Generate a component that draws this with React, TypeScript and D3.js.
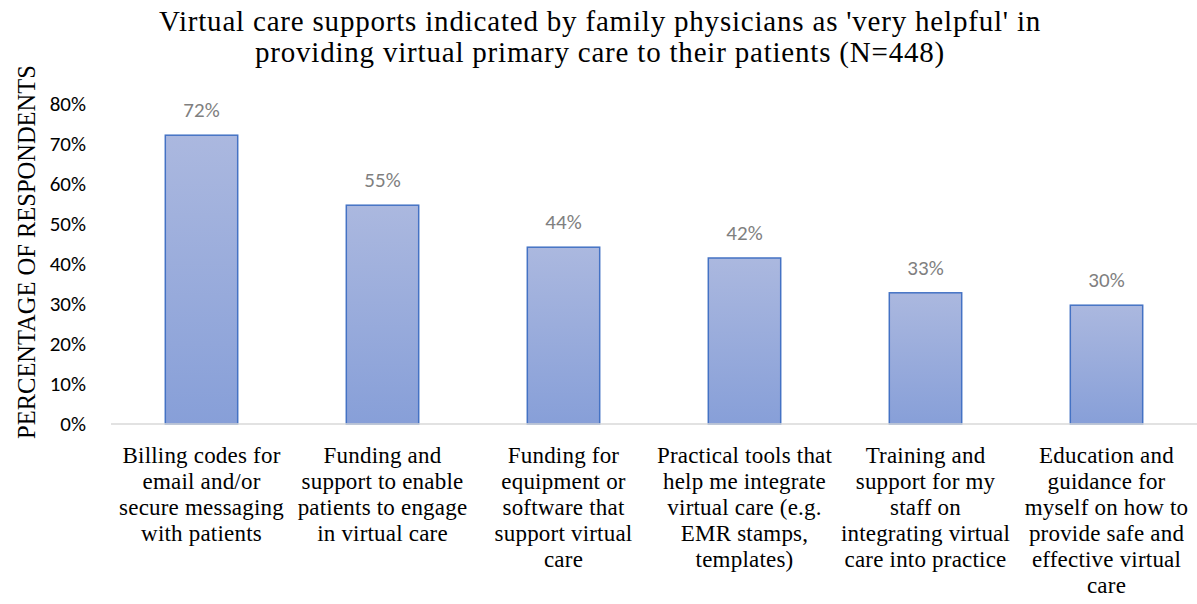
import React, { useEffect, useRef } from 'react';
import * as d3 from 'd3';

const categories = [
  ['Billing codes for', 'email and/or', 'secure messaging', 'with patients'],
  ['Funding and', 'support to enable', 'patients to engage', 'in virtual care'],
  ['Funding for', 'equipment or', 'software that', 'support virtual', 'care'],
  ['Practical tools that', 'help me integrate', 'virtual care (e.g.', 'EMR stamps,', 'templates)'],
  ['Training and', 'support for my', 'staff on', 'integrating virtual', 'care into practice'],
  ['Education and', 'guidance for', 'myself on how to', 'provide safe and', 'effective virtual', 'care'],
];
const values = [72.2, 54.7, 44.2, 41.5, 32.8, 29.7];
const yTicks = [0, 10, 20, 30, 40, 50, 60, 70, 80];
const titleLines = [
  "Virtual care supports indicated by family physicians as 'very helpful' in",
  'providing virtual primary care to their patients (N=448)',
];

const App = () => {
  const svgRef = useRef<SVGSVGElement>(null);

  useEffect(() => {
    const svg = d3.select(svgRef.current);
    svg.selectAll('*').remove();

    const width = 1197;
    const height = 604;
    const margin = { top: 104, right: 0, bottom: 180, left: 111 };
    const sans = "Carlito, Calibri, 'Liberation Sans', sans-serif";
    const serif = "'Liberation Serif', 'Times New Roman', serif";

    const defs = svg.append('defs');
    const grad = defs.append('linearGradient')
      .attr('id', 'barGrad').attr('x1', 0).attr('y1', 0).attr('x2', 0).attr('y2', 1);
    grad.append('stop').attr('offset', '0%').attr('stop-color', '#abb8df');
    grad.append('stop').attr('offset', '100%').attr('stop-color', '#879fd8');

    const x = d3.scaleBand<number>()
      .domain(d3.range(categories.length))
      .range([margin.left, width - margin.right])
      .paddingInner(0.6).paddingOuter(0.3);

    const y = d3.scaleLinear()
      .domain([0, 80])
      .range([height - margin.bottom, margin.top]);

    // title
    svg.append('g')
      .selectAll('text')
      .data(titleLines)
      .join('text')
      .attr('x', 600)
      .attr('y', (d, i) => 31 + i * 31)
      .attr('text-anchor', 'middle')
      .attr('font-family', serif)
      .attr('font-size', 29)
      .attr('letter-spacing', 0.8)
      .attr('fill', '#000')
      .text(d => d);

    // y axis label
    svg.append('text')
      .attr('transform', `translate(35,${(y(0) + y(80)) / 2 - 12}) rotate(-90)`)
      .attr('text-anchor', 'middle')
      .attr('font-family', serif)
      .attr('font-size', 24.5)
      .text('PERCENTAGE OF RESPONDENTS');

    // y ticks
    svg.append('g')
      .selectAll('text')
      .data(yTicks)
      .join('text')
      .attr('x', 86)
      .attr('y', d => y(d))
      .attr('dy', '0.35em')
      .attr('text-anchor', 'end')
      .attr('font-family', sans)
      .attr('font-size', 21)
      .attr('fill', '#000')
      .text(d => `${d}%`);

    // bars
    svg.append('g')
      .selectAll('rect')
      .data(values)
      .join('rect')
      .attr('x', (d, i) => x(i)!)
      .attr('y', d => y(d))
      .attr('width', x.bandwidth())
      .attr('height', d => y(0) - y(d))
      .attr('fill', 'url(#barGrad)')
      .attr('stroke', '#4472c4')
      .attr('stroke-width', 1.5);

    // baseline
    svg.append('line')
      .attr('x1', margin.left).attr('x2', width - margin.right)
      .attr('y1', y(0)).attr('y2', y(0))
      .attr('stroke', '#d9d9d9').attr('stroke-width', 1.5);

    // data labels
    svg.append('g')
      .selectAll('text')
      .data(values)
      .join('text')
      .attr('x', (d, i) => x(i)! + x.bandwidth() / 2)
      .attr('y', d => y(d) - 18)
      .attr('text-anchor', 'middle')
      .attr('font-family', sans)
      .attr('font-size', 21)
      .attr('fill', '#7f7f7f')
      .text(d => `${Math.round(d)}%`);

    // category labels
    const cat = svg.append('g')
      .selectAll('text')
      .data(categories)
      .join('text')
      .attr('x', (d, i) => x(i)! + x.bandwidth() / 2)
      .attr('y', 463)
      .attr('text-anchor', 'middle')
      .attr('font-family', serif)
      .attr('font-size', 23)
      .attr('letter-spacing', 0.2)
      .attr('fill', '#000');
    cat.selectAll('tspan')
      .data(d => d)
      .join('tspan')
      .attr('x', function () { return (this.parentNode as SVGTextElement).getAttribute('x'); })
      .attr('dy', (d, i) => (i === 0 ? 0 : 26))
      .text(d => d);
  }, []);

  return <svg ref={svgRef} width={1197} height={604} style={{ display: 'block', position: 'absolute', left: 0, top: 0 }}></svg>;
};

export default App;
